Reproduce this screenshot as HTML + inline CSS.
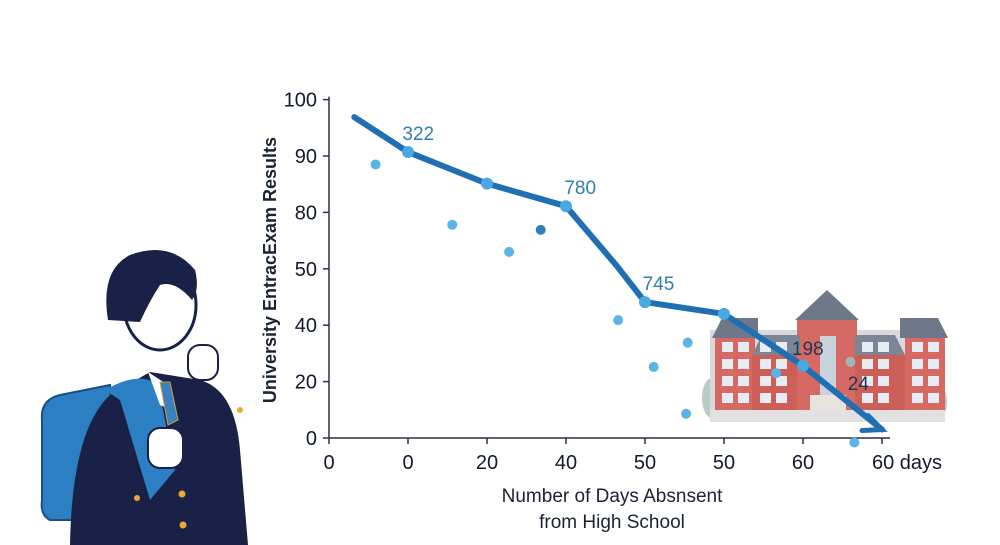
<!DOCTYPE html>
<html><head><meta charset="utf-8">
<style>
body{margin:0;background:#fff;}
svg{display:block;font-family:"Liberation Sans",sans-serif;}
</style></head>
<body>
<svg id="chart" width="1000" height="545" viewBox="0 0 1000 545" xmlns="http://www.w3.org/2000/svg">
  <rect width="1000" height="545" fill="#fff"/>
  <g>
    <ellipse cx="712" cy="398" rx="10" ry="20" fill="#b8cbc4"/>
    <ellipse cx="938" cy="402" rx="9" ry="18" fill="#b8cbc4"/>
    <rect x="710" y="330" width="235" height="92" fill="#d9d9dc"/>
    <rect x="715" y="338" width="40" height="72" fill="#d46a63"/>
    <rect x="752" y="355" width="50" height="55" fill="#cc5f58"/>
    <rect x="797" y="318" width="60" height="92" fill="#d46a63"/>
    <rect x="855" y="355" width="50" height="55" fill="#cc5f58"/>
    <rect x="905" y="338" width="40" height="72" fill="#d46a63"/>
    <polygon points="712,338 722,318 758,318 758,338" fill="#6f7889"/>
    <polygon points="752,355 762,335 800,335 800,355" fill="#7c8596"/>
    <polygon points="855,355 855,335 895,335 905,355" fill="#7c8596"/>
    <polygon points="900,338 900,318 938,318 948,338" fill="#6f7889"/>
    <polygon points="795,320 827,290 859,320" fill="#6f7889"/>
    <rect x="820" y="336" width="16" height="60" fill="#c9d3de"/>
    <rect x="810" y="395" width="36" height="20" fill="#e8e3df"/>
    <rect x="710" y="410" width="235" height="12" fill="#e2e0e3"/>
    <g fill="#e6ecf2" id="wins"></g>
  </g>
  <g>
    <path d="M42,420 Q40,400 60,395 L110,385 L115,520 L50,520 Q40,515 42,500 Z" fill="#2d7fc4" stroke="#1a4f86" stroke-width="2"/>
    <path d="M70,545 Q72,430 110,395 L150,372 L200,380 Q235,390 240,450 L248,545 Z" fill="#1a2147"/>
    <path d="M105,390 Q140,370 158,385 L175,470 L150,500 L120,400 Z" fill="#2d7fc4"/>
    <path d="M148,372 L168,385 L172,410 L160,405 Z" fill="#fff"/>
    <path d="M160,382 L170,382 L178,420 L168,425 Z" fill="#3a7fbf" stroke="#c8a23a" stroke-width="1"/>
    <ellipse cx="160" cy="305" rx="36" ry="45" fill="#fff" stroke="#1a2147" stroke-width="3"/>
    <path d="M108,320 Q100,270 130,255 Q170,240 195,270 Q200,290 192,300 Q175,280 160,285 Q150,300 140,322 Z" fill="#1a2147"/>
    <rect x="188" y="345" width="30" height="35" rx="12" fill="#fff" stroke="#1a2147" stroke-width="2"/>
    <rect x="148" y="428" width="35" height="40" rx="12" fill="#fff" stroke="#1a2147" stroke-width="2"/>
    <circle cx="182" cy="494" r="3.5" fill="#e9a936"/>
    <circle cx="183" cy="525" r="3.5" fill="#e9a936"/>
    <circle cx="137" cy="498" r="3" fill="#e9a936"/>
    <circle cx="240" cy="410" r="3" fill="#e9a936"/>
  </g>
  <g id="plot"></g>
</svg>
<script>
const xTickLabels = ["0","0","20","40","50","50","60","60 days"];
const yTickLabels = ["0","20","40","50","80","90","100"];
const lineX = [0.32,1,2,3,3.65,4,5,6,7];
const lineY = [5.69,5.07,4.51,4.11,3.04,2.41,2.20,1.28,0.15];
const markedX = [1,2,3,4,5,6];
const markedY = [5.07,4.51,4.11,2.41,2.20,1.28];
const scatterX = [0.59,1.56,2.28,2.68,3.66,4.11,4.54,4.52,5.66,6.65,6.6];
const scatterY = [4.85,3.78,3.30,3.69,2.09,1.26,1.69,0.43,1.15,-0.08,1.35];
const scatterTone = ["l","l","l","d","l","l","l","l","l","l","g"];
const annoText = ["322","780","745","198","24"];
const annoX = [1.13,3.18,4.17,6.06,6.7];
const annoY = [5.28,4.33,2.62,1.47,0.85];
const annoDark = [false,false,false,true,true];

const NS="http://www.w3.org/2000/svg";
const X0=329, DX=79, Y0=438, DY=56.4;
const xs=v=>X0+v*DX, ys=v=>Y0-v*DY;
const plot=document.getElementById('plot');
function mk(t,a,p){const e=document.createElementNS(NS,t);for(const k in a)e.setAttribute(k,a[k]);(p||plot).appendChild(e);return e;}

const wins=document.getElementById('wins');
for(let r=0;r<4;r++){for(const c of [722,738,760,776,862,878,912,928]){mk('rect',{x:c,y:342+r*17,width:11,height:10},wins);}}

const ax=mk('line',{x1:X0,y1:Y0,x2:X0,y2:ys(6)-3,stroke:'#2a3142','stroke-width':1.5});


const bx=mk('line',{x1:X0,y1:Y0,x2:890,y2:Y0,stroke:'#2a3142','stroke-width':1.5});



yTickLabels.forEach((l,i)=>{
  const tk=mk('line',{x1:X0-6,y1:ys(i),x2:X0,y2:ys(i),stroke:'#2a3142','stroke-width':1.5});
  
  
  const t=mk('text',{x:X0-12,y:ys(i)+7,'text-anchor':'end','font-size':20,fill:'#121a2c'});
  t.textContent=l;
  
  
});
xTickLabels.forEach((l,i)=>{
  const tk=mk('line',{x1:xs(i),y1:Y0,x2:xs(i),y2:Y0+6,stroke:'#2a3142','stroke-width':1.5});
  
  
  const t=mk('text',{x:xs(i)-(i==7?10:0),y:Y0+31,'text-anchor':i==7?'start':'middle','font-size':20,fill:'#121a2c'});
  t.textContent=l;
  
  
});

scatterX.forEach((v,i)=>{
  const c=mk('circle',{cx:xs(v),cy:ys(scatterY[i]),r:5,fill:scatterTone[i]=='d'?'#2f7fb8':scatterTone[i]=='g'?'#9fb7b6':'#5ab4e6'});
  
  
});

const pts=lineX.map((v,i)=>xs(v)+','+ys(lineY[i])).join(' ');
const pl=mk('polyline',{points:pts,fill:'none',stroke:'#1f6fb2','stroke-width':6,'stroke-linejoin':'round','stroke-linecap':'round'});


const n=lineX.length-1, ex=xs(lineX[n]), ey=ys(lineY[n]);
const ah=mk('polyline',{points:(ex-14)+','+(ey-14)+' '+ex+','+ey+' '+(ex-20)+','+(ey+1),fill:'none',stroke:'#1f6fb2','stroke-width':5,'stroke-linecap':'round'});


markedX.forEach((v,i)=>{
  const c=mk('circle',{cx:xs(v),cy:ys(markedY[i]),r:6,fill:'#4aa8e0'});
  
  
});

annoText.forEach((s,i)=>{
  const t=mk('text',{x:xs(annoX[i]),y:ys(annoY[i]),'text-anchor':'middle','font-size':19,fill:annoDark[i]?'#243455':'#2f7fb0'});
  t.textContent=s;
  
  
});

const yt=mk('text',{x:0,y:0,transform:'translate(276,270) rotate(-90)','text-anchor':'middle','font-size':18,'font-weight':'bold',fill:'#1a2233'});
yt.textContent='University EntracExam Results';


const xt=mk('text',{x:612,y:502,'text-anchor':'middle','font-size':19,fill:'#1a2233'});
xt.textContent='Number of Days Absnsent';


const xt2=mk('text',{x:612,y:528,'text-anchor':'middle','font-size':19,fill:'#1a2233'});
xt2.textContent='from High School';


</script>
</body></html>
